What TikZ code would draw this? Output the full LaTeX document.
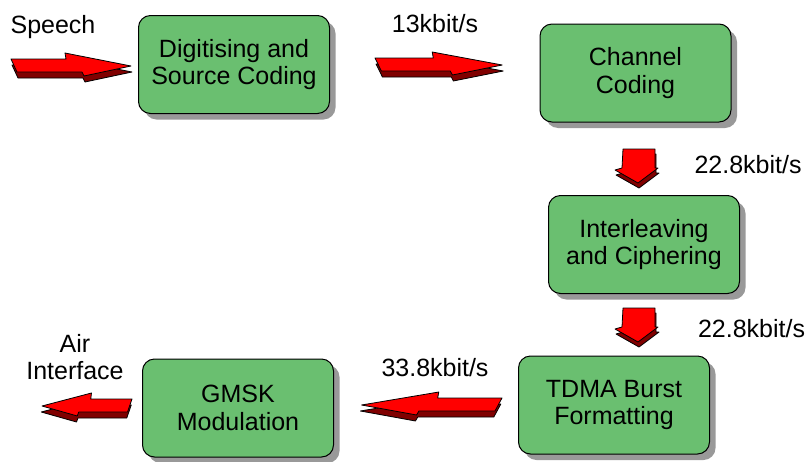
\documentclass[tikz,border=0pt]{standalone}
\usepackage{fontspec}
\setmainfont{Liberation Sans}
\usetikzlibrary{shadows}

\definecolor{boxgreen}{RGB}{106,191,112}
\definecolor{arrowred}{RGB}{255,0,0}
\definecolor{arrowdark}{RGB}{128,0,0}

% outlines of the flat block arrows (pixel units, y down)
\newcommand{\flatright}{(0,0) -- (55,0) -- (54,-6) -- (120,7) -- (73,17) -- (71,13) -- (6,13) -- cycle}
\newcommand{\flatdown}{(0,0) -- (32,0) -- (32,19) -- (35,19) -- (15,34) -- (-8,21) -- (-1,19) -- cycle}

\begin{document}
\begin{tikzpicture}[
    x=1pt, y=-1pt,
    stagebox/.style={rectangle, draw=black, line width=1pt, fill=boxgreen, rounded corners=12pt, minimum width=191pt, minimum height=98pt, inner sep=0pt, align=center, font=\fontsize{25}{27.5}\selectfont, drop shadow={shadow xshift=6pt, shadow yshift=-6pt, fill=black!40, opacity=1}},
    ratelabel/.style={align=center, anchor=base, inner sep=0pt, font=\fontsize{25}{27.5}\selectfont},
    arrowtop/.style={fill=arrowred, draw=black, line width=0.8pt, line join=round},
    arrowside/.style={fill=arrowdark, draw=black, line width=0.8pt, line join=round},
    pics/rightblock/.style={code={
        \filldraw[arrowside, shift={(1,6)}] \flatright;
        \filldraw[arrowtop] \flatright;
    }},
    pics/downblock/.style={code={
        \filldraw[arrowside, shift={(1,5)}] \flatdown;
        \filldraw[arrowtop] \flatdown;
    }}
]
\useasboundingbox (0,0) rectangle (809,461);

% Stages
\node[stagebox] (digit) at (234,64.5) {Digitising and\\Source Coding};
\node[stagebox] (chan) at (635.5,73) {Channel\\Coding};
\node[stagebox] (inter) at (644,244.5) {Interleaving\\and Ciphering};
\node[stagebox] (tdma) at (614,405) {TDMA Burst\\Formatting};
\node[stagebox] (gmsk) at (238,408) {GMSK\\Modulation};

% Block arrows
\pic at (11,59) {rightblock};
\pic[xscale=1.06] at (375,58) {rightblock};
\pic at (623,149) {downblock};
\pic at (623,308) {downblock};
\pic[xscale=-1.17] at (502,398) {rightblock};
\pic[xscale=-0.75] at (132,399) {rightblock};

% Rates
\node[ratelabel] (speech) at (53,33) {Speech};
\node[ratelabel] (rate1) at (435,32) {13kbit/s};
\node[ratelabel] (rate2) at (748,173) {22.8kbit/s};
\node[ratelabel] (rate3) at (751.5,337) {22.8kbit/s};
\node[ratelabel] (rate4) at (435,376) {33.8kbit/s};
\node[ratelabel, anchor=center] (air) at (75,357) {Air\\Interface};

\end{tikzpicture}
\end{document}
